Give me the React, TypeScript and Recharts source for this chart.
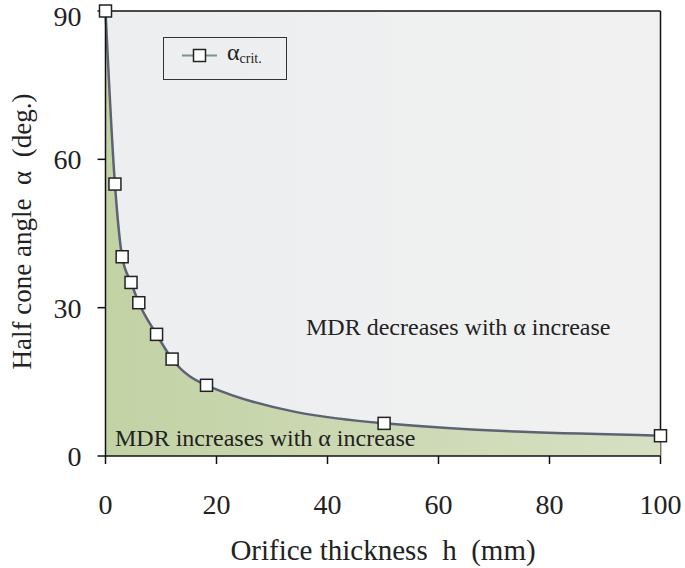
import React from "react";
import {
  ComposedChart,
  Area,
  XAxis,
  YAxis,
  CartesianGrid,
  Legend,
  Label,
} from "recharts";

const hValues = [0, 1.7, 3, 4.6, 6, 9.2, 12, 18.2, 50.2, 100];
const alphaValues = [90, 55, 40.3, 35.1, 31, 24.6, 19.6, 14.3, 6.6, 4.1];
const xTicks = [0, 20, 40, 60, 80, 100];
const yTicks = [0, 30, 60, 90];

const data = hValues.map((h, i) => ({ h, alpha: alphaValues[i] }));

const FONT = "'Liberation Serif', 'Times New Roman', serif";

const SquareDot = (props: any) => {
  const { cx, cy, index } = props;
  if (cx == null || cy == null) return null;
  return (
    <rect
      key={`dot-${index}`}
      x={cx - 6}
      y={cy - 6}
      width={12}
      height={12}
      fill="#ffffff"
      stroke="#222"
      strokeWidth={1.5}
    />
  );
};

const LegendBox = () => (
  <svg width={124} height={43} style={{ display: "block" }}>
    <rect x={0.5} y={0.5} width={123} height={42} fill="none" stroke="#333" strokeWidth={1} />
    <line x1={19} y1={18.5} x2={54} y2={18.5} stroke="#7d9285" strokeWidth={2} />
    <rect x={30.5} y={12.5} width={12} height={12} fill="#fff" stroke="#222" strokeWidth={1.5} />
    <text x={64} y={23} fontFamily={FONT} fontSize={24} fill="#222">
      α
      <tspan fontSize={14} dy={3}>crit.</tspan>
    </text>
  </svg>
);

const noteStyle: React.CSSProperties = {
  position: "absolute",
  fontFamily: FONT,
  fontSize: 24,
  lineHeight: "24px",
  color: "#222",
  whiteSpace: "pre",
};

export default function App() {
  return (
    <div style={{ position: "absolute", left: 0, top: 0, width: 685, height: 568 }}>
      <ComposedChart
        width={685}
        height={568}
        data={data}
        margin={{ top: 11, right: 24.5, left: 0, bottom: 0 }}
      >
        <defs>
          <linearGradient id="bgFill" x1="0" y1="0" x2="1" y2="0">
            <stop offset="0%" stopColor="#eceeef" />
            <stop offset="100%" stopColor="#f1f1f1" />
          </linearGradient>
          <linearGradient id="greenFill" x1="0" y1="0" x2="1" y2="0">
            <stop offset="0%" stopColor="#c3d2a5" />
            <stop offset="100%" stopColor="#d6e0c3" />
          </linearGradient>
        </defs>
        <CartesianGrid
          fill="url(#bgFill)"
          fillOpacity={1}
          stroke="#111"
          strokeWidth={1.5}
          horizontalValues={[90]}
          verticalValues={[100]}
        />
        <XAxis
          type="number"
          dataKey="h"
          domain={[0, 100]}
          ticks={xTicks}
          height={112}
          tickSize={8}
          tickMargin={30}
          stroke="#111"
          strokeWidth={1.5}
          tick={{ fontFamily: FONT, fontSize: 28, fill: "#222" }}
        >
          <Label
            content={({ viewBox }: any) => (
              <text
                x={viewBox.x + viewBox.width / 2}
                y={viewBox.y + 104}
                textAnchor="middle"
                fontFamily={FONT}
                fontSize={29}
                fill="#222"
                style={{ whiteSpace: "pre" }}
              >
                {"Orifice thickness  h  (mm)"}
              </text>
            )}
          />
        </XAxis>
        <YAxis
          type="number"
          domain={[0, 90]}
          ticks={yTicks}
          width={105.5}
          tickSize={8}
          tickMargin={16}
          stroke="#111"
          strokeWidth={1.5}
          tick={{ fontFamily: FONT, fontSize: 28, fill: "#222" }}
        >
          <Label
            content={({ viewBox }: any) => {
              const cx = 31;
              const cy = viewBox.y + viewBox.height / 2 - 2;
              return (
                <text
                  x={cx}
                  y={cy}
                  transform={`rotate(-90 ${cx} ${cy})`}
                  textAnchor="middle"
                  fontFamily={FONT}
                  fontSize={27}
                  fill="#222"
                  style={{ whiteSpace: "pre" }}
                >
                  {"Half cone angle  α  (deg.)"}
                </text>
              );
            }}
          />
        </YAxis>
        <Legend
          layout="vertical"
          align="center"
          verticalAlign="middle"
          wrapperStyle={{ left: 163, top: 37, width: 124, height: 43 }}
          content={() => <LegendBox />}
        />
        <Area
          type="monotone"
          dataKey="alpha"
          name="αcrit."
          baseValue={0}
          stroke="#5d6275"
          strokeWidth={2.5}
          fill="url(#greenFill)"
          fillOpacity={1}
          dot={SquareDot}
          activeDot={false}
          isAnimationActive={false}
        />
      </ComposedChart>
      <div style={{ ...noteStyle, left: 306, top: 315 }}>MDR decreases with α increase</div>
      <div style={{ ...noteStyle, left: 115, top: 426 }}>MDR increases with α increase</div>
    </div>
  );
}
